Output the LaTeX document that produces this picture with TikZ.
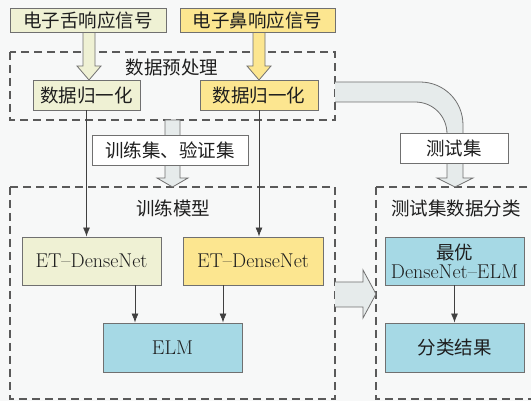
\documentclass[tikz,border=0pt]{standalone}
\usepackage{fontspec}
\newfontfamily\cjk{Noto Sans CJK SC}
\usetikzlibrary{arrows.meta}
\definecolor{bgc}{HTML}{F7F8F8}
\definecolor{tongue}{HTML}{EFF1D4}
\definecolor{nose}{HTML}{FCE690}
\definecolor{bluebox}{HTML}{A6D9E5}
\definecolor{hollow}{HTML}{E6EBEB}
\definecolor{edge}{HTML}{707070}
\definecolor{txt}{HTML}{1E1E1E}
\tikzset{
  box/.style={draw=edge, line width=0.9pt, minimum height=#1, inner sep=0pt, text=txt, anchor=center},
  box/.default=30pt,
  cjktext/.style={font=\cjk\fontsize{18.5}{22}\selectfont},
  lattext/.style={font=\fontsize{20}{22}\selectfont},
  dashbox/.style={draw=edge!80!black, line width=1.1pt, dash pattern=on 8pt off 5pt},
  arr/.style={draw=black!75, line width=0.8pt, -{Latex[length=9pt,width=7pt]}},
  hol/.style={draw=edge, line width=0.8pt, line join=miter},
}
\begin{document}
\begin{tikzpicture}[x=1pt,y=-1pt]
\useasboundingbox (0,0) rectangle (531,401);
\fill[bgc] (0,0) rectangle (531,401);

% dashed frames
\draw[dashbox] (10,52) rectangle (335,120);
\draw[dashbox] (10,187) rectangle (335,399);
\draw[dashbox] (376,187) rectangle (545,399);

% hollow arrows from top boxes
\filldraw[hol, fill=tongue] (83,32) -- (95,32) -- (95,66) -- (101,66) -- (89,80) -- (77,66) -- (83,66) -- cycle;
\filldraw[hol, fill=nose] (253,32) -- (265,32) -- (265,66) -- (271,66) -- (259,80) -- (247,66) -- (253,66) -- cycle;

% middle hollow arrow (train/validation)
\filldraw[hol, fill=hollow] (165,120) -- (180,120) -- (180,178) -- (188,178) -- (172.5,187) -- (157,178) -- (165,178) -- cycle;

% curved hollow arrow (test set)
\fill[hollow] (335,82) -- (420,82) .. controls (444,82) and (463,101) .. (463,125)
  -- (463,178) -- (473,178) -- (455,187) -- (437,178) -- (447,178) -- (447,134)
  .. controls (447,116) and (433,102) .. (415,102) -- (335,102) -- cycle;
\draw[hol] (335,82) -- (420,82) .. controls (444,82) and (463,101) .. (463,125)
  -- (463,178) -- (473,178) -- (455,187) -- (437,178) -- (447,178) -- (447,134)
  .. controls (447,116) and (433,102) .. (415,102) -- (335,102);

% horizontal hollow arrow
\fill[hollow] (335,282) -- (363,282) -- (363,270) -- (376,294) -- (363,318) -- (363,307) -- (335,307) -- cycle;
\draw[hol] (335,282) -- (363,282) -- (363,270) -- (376,294) -- (363,318) -- (363,307) -- (335,307);

% nodes
\node[box=24pt, cjktext, fill=tongue, minimum width=156pt] (tongue) at (88,20) {电子舌响应信号};
\node[box=24pt, cjktext, fill=nose, minimum width=155pt] (nose) at (257.5,20) {电子鼻响应信号};
\node[cjktext, text=txt] (pre) at (172,67) {数据预处理};
\node[box=30pt, cjktext, fill=tongue, minimum width=107pt] (norm1) at (86.5,95) {数据归一化};
\node[box=30pt, cjktext, fill=nose, minimum width=118pt] (norm2) at (259,95) {数据归一化};
\node[box=30pt, cjktext, fill=white, minimum width=156pt] (trainset) at (170,150) {训练集、验证集};
\node[box=30pt, cjktext, fill=white, minimum width=108pt] (testset) at (454,148) {测试集};
\node[cjktext, text=txt] (train) at (173,208) {训练模型};
\node[cjktext, text=txt] (testcls) at (456,208) {测试集数据分类};
\node[box=48pt, lattext, fill=tongue, minimum width=139pt] (et1) at (91.5,261) {ET--DenseNet};
\node[box=48pt, lattext, fill=nose, minimum width=140pt] (et2) at (253,261) {ET--DenseNet};
\node[box=49pt, lattext, fill=bluebox, minimum width=139pt] (elm) at (172.5,347.5) {ELM};
\node[box=48pt, lattext, fill=bluebox, minimum width=139pt, align=center] (best) at (454.5,261) {{\cjk\fontsize{18.5}{22}\selectfont 最优}\\[-3pt]DenseNet--ELM};
\node[box=49pt, cjktext, fill=bluebox, minimum width=139pt] (result) at (454.5,347.5) {分类结果};

% thin arrows
\draw[arr] (norm1.south) -- (norm1.south |- et1.north);
\draw[arr] (norm2.south) -- (norm2.south |- et2.north);
\coordinate (xa) at (135,0);
\coordinate (xb) at (223,0);
\draw[arr] (xa |- et1.south) -- (xa |- elm.north);
\draw[arr] (xb |- et2.south) -- (xb |- elm.north);
\draw[arr] (best.south) -- (result.north);
\end{tikzpicture}
\end{document}
